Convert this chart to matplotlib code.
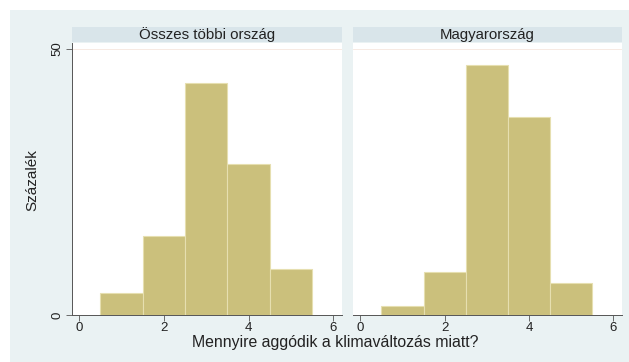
import matplotlib
matplotlib.use("Agg")
from matplotlib import pyplot as plt
from matplotlib import patches

plt.rcParams['font.family'] = ['Liberation Sans', 'DejaVu Sans']

# histogram data (percent), bins centred at 1..5, width 1
bin_centers = [1, 2, 3, 4, 5]
other_pct = [4.2, 14.9, 43.7, 28.4, 8.6]
hungary_pct = [1.6, 8.1, 47.1, 37.2, 6.0]
panel_titles = ["Összes többi ország", "Magyarország"]
xticks = [0, 2, 4, 6]
yticks = [0, 50]

W, H = 629, 362
bg = "#eaf2f3"
strip = "#d9e5ea"
bar_fc = "#cbc07c"
bar_ec = "#e6dfb0"
axis_col = "#555555"
txt_col = "#222222"

fig = plt.figure(figsize=(W / 100, H / 100), dpi=100)
fig.patch.set_facecolor("white")
fig.patches.append(patches.Rectangle((10 / W, 0), 1 - 10 / W, 1 - 10 / H,
                                     transform=fig.transFigure, fc=bg, ec="none", zorder=-10))

def fx(px):
    return px / W

def fy(py):
    return 1 - py / H

panels = [(71.7, 341.7), (352.7, 621.7)]
top, bottom = 42.7, 315.0
strip_top, strip_bot = 26.7, 41.7

for i, (data, title, (x0, x1)) in enumerate(zip([other_pct, hungary_pct], panel_titles, panels)):
    ax = fig.add_axes([fx(x0), fy(bottom), fx(x1 - x0), (bottom - top) / H])
    ax.set_facecolor("white")
    ax.bar(bin_centers, data, width=1.0, color=bar_fc, edgecolor=bar_ec, linewidth=0.8, zorder=2)
    ax.axhline(50, color="#f6e7de", lw=0.6, zorder=1)
    ax.set_xlim(-0.18, 6.2)
    ax.set_ylim(0, 51.2)
    ax.set_xticks(xticks)
    ax.set_xticklabels([str(t) for t in xticks], fontsize=9.5, color=txt_col)
    ax.tick_params(axis="x", length=4, width=0.6, color=axis_col, pad=1)
    for s in ["top", "right"]:
        ax.spines[s].set_visible(False)
    ax.spines["bottom"].set_color(axis_col)
    ax.spines["bottom"].set_linewidth(0.7)
    if i == 0:
        ax.spines["left"].set_color(axis_col)
        ax.spines["left"].set_linewidth(0.7)
        ax.set_yticks(yticks)
        ax.set_yticklabels([str(t) for t in yticks], fontsize=9.5, rotation=90,
                           va="center", color=txt_col)
        ax.tick_params(axis="y", length=4, width=0.6, color=axis_col, pad=2)
    else:
        ax.spines["left"].set_visible(False)
        ax.set_yticks([])

    # title strip
    sax = fig.add_axes([fx(x0), fy(strip_bot), fx(x1 - x0), (strip_bot - strip_top) / H])
    sax.set_facecolor(strip)
    sax.set_xticks([])
    sax.set_yticks([])
    for s in sax.spines.values():
        s.set_visible(False)
    sax.text(0.5, 0.45, title, ha="center", va="center", fontsize=10.8, color=txt_col,
             transform=sax.transAxes)

fig.text(fx(335), fy(343), "Mennyire aggódik a klimaváltozás miatt?", ha="center", va="center",
         fontsize=11.4, color=txt_col)
fig.text(fx(32), fy(180), "Százalék", ha="center", va="center", rotation=90,
         fontsize=11, color=txt_col)

fig.savefig("out.png", dpi=100)
